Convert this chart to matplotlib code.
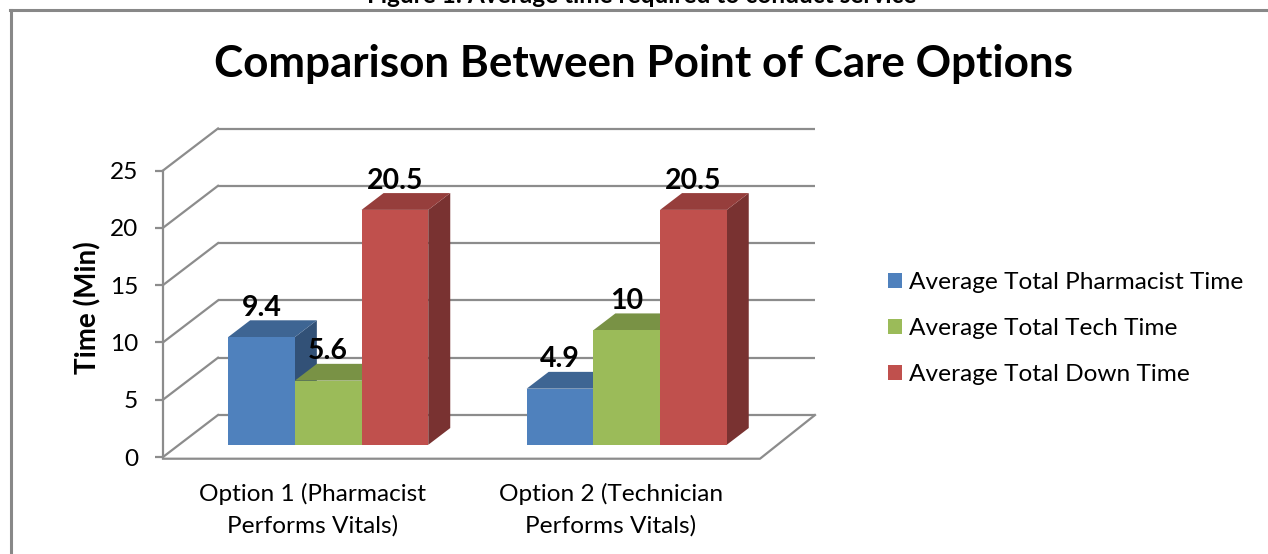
import matplotlib
matplotlib.use("Agg")
import matplotlib.pyplot as plt
from matplotlib.patches import Polygon, Rectangle
from matplotlib.lines import Line2D
import numpy as np

# ---------------- data ----------------
categories = ["Option 1 (Pharmacist\nPerforms Vitals)", "Option 2 (Technician\nPerforms Vitals)"]
series_names = ["Average Total Pharmacist Time", "Average Total Tech Time", "Average Total Down Time"]
pharmacist_time = [9.4, 4.9]
tech_time = [5.6, 10]
down_time = [20.5, 20.5]
y_ticks = [0, 5, 10, 15, 20, 25]
title_text = "Comparison Between Point of Care Options"
caption_text = "Figure 1: Average time required to conduct service"
y_label = "Time (Min)"

series_values = [pharmacist_time, tech_time, down_time]
front_colors = ["#4F81BD", "#9BBB59", "#C0504D"]

plt.rcParams["font.family"] = ["Lato", "DejaVu Sans"]

W, H = 1268, 554
fig = plt.figure(figsize=(W / 100, H / 100), dpi=100)

# ---------------- pseudo-3D geometry (pixel layout) ----------------
x0_px, xunit_px = 163.0, 298.5      # front-plane x origin & pixels per category unit
y0_px, yunit_px = 457.0, 11.46      # front-plane y origin & pixels per minute
DX = 55.0 / xunit_px                # depth offset (full depth) in x units
DY = 42.0 / yunit_px                # depth offset (full depth) in value units
xlim = (-0.03, 2.25)
ylim = (-0.6, 29.6)
left_px = x0_px + xlim[0] * xunit_px
right_px = x0_px + xlim[1] * xunit_px
bottom_px = y0_px - ylim[0] * yunit_px
top_px = y0_px - ylim[1] * yunit_px
ax = fig.add_axes([left_px / W, 1 - bottom_px / H,
                   (right_px - left_px) / W, (bottom_px - top_px) / H])
ax.set_xlim(xlim)
ax.set_ylim(ylim)
ax.patch.set_visible(False)

grid_c = "#8C8C8C"
grid_lw = 1.6
n_cat = len(categories)
base_fs = 17.6

# back wall gridlines and left wall diagonals
for v in y_ticks:
    ax.plot([DX, n_cat + DX], [v + DY, v + DY], color=grid_c, lw=grid_lw, zorder=1,
            solid_capstyle="butt")
    ax.plot([0, DX], [v, v + DY], color=grid_c, lw=grid_lw, zorder=1)
# floor outline
ax.plot([0, n_cat, n_cat + DX], [-0.15, -0.15, DY], color=grid_c, lw=grid_lw, zorder=1)

# front value axis
for s in ["top", "right", "bottom"]:
    ax.spines[s].set_visible(False)
ax.spines["left"].set_position(("data", 0))
ax.spines["left"].set_bounds(0, y_ticks[-1])
ax.spines["left"].set_color(grid_c)
ax.spines["left"].set_linewidth(grid_lw)
ax.set_yticks(y_ticks)
ax.set_yticklabels([str(t) for t in y_ticks])
ax.tick_params(axis="y", length=6, width=grid_lw, color=grid_c, labelsize=base_fs,
               pad=12, labelcolor="black")

cat_centers = np.arange(n_cat) + 0.5
ax.set_xticks(cat_centers)
ax.set_xticklabels(categories, fontsize=base_fs, linespacing=1.58)
ax.tick_params(axis="x", length=0, pad=13.5)

fig.text(88 / W, 1 - 308 / H, y_label, rotation=90, ha="center", va="center",
         fontsize=20, fontweight="bold")

# ---------------- bars ----------------
bar_w = 66.7 / xunit_px
d_front, d_back = 0.29, 0.69
base = d_front * DY
ddx = (d_back - d_front) * DX
ddy = (d_back - d_front) * DY


def shade(hexc, f):
    r, g, b = matplotlib.colors.to_rgb(hexc)
    return (r * f, g * f, b * f)


for i, (vals, col, name) in enumerate(zip(series_values, front_colors, series_names)):
    xs = cat_centers + (i - 1) * bar_w + d_front * DX
    bars = ax.bar(xs, vals, width=bar_w, bottom=base, color=col, label=name,
                  linewidth=0)
    for c, (rect, v) in enumerate(zip(bars, vals)):
        z = 3 + c + i * 0.1
        rect.set_zorder(z + 0.03)
        xl = rect.get_x()
        xr = xl + rect.get_width()
        top_y = base + v
        side = Polygon([(xr, base), (xr, top_y), (xr + ddx, top_y + ddy), (xr + ddx, base + ddy)],
                       closed=True, facecolor=shade(col, 0.63), edgecolor="none", zorder=z + 0.01)
        top = Polygon([(xl, top_y), (xr, top_y), (xr + ddx, top_y + ddy), (xl + ddx, top_y + ddy)],
                      closed=True, facecolor=shade(col, 0.78), edgecolor="none", zorder=z + 0.02)
        ax.add_patch(side)
        ax.add_patch(top)
        ax.text(xl + bar_w / 2, top_y + 1.85, f"{v:g}", ha="center", va="baseline",
                fontsize=20.5, fontweight="bold", zorder=10)

# ---------------- legend ----------------
handles = [Rectangle((0, 0), 1, 1, facecolor=c, edgecolor="none") for c in front_colors]
leg_fs = base_fs
fs_px = leg_fs * 100 / 72
fig.legend(handles, series_names, loc="center left",
           bbox_to_anchor=(888 / W, 1 - 328.5 / H), bbox_transform=fig.transFigure,
           frameon=False, fontsize=leg_fs, borderpad=0, borderaxespad=0,
           handlelength=14 / fs_px, handleheight=14 / fs_px, handletextpad=7 / fs_px,
           labelspacing=1.03)

# ---------------- titles and frame ----------------
fig.text(643 / W, 1 - 77 / H, title_text, ha="center", va="baseline",
         fontsize=31.7, fontweight="bold")
fig.text(642 / W, 1 - 3 / H, caption_text, ha="center", va="baseline",
         fontsize=17.6, fontweight="bold")

frame_c = "#888888"
fig.add_artist(Line2D([10 / W, 1], [1 - 9.5 / H, 1 - 9.5 / H], transform=fig.transFigure,
                      color=frame_c, lw=2.2))
fig.add_artist(Line2D([11 / W, 11 / W], [0, 1 - 9.5 / H], transform=fig.transFigure,
                      color=frame_c, lw=2.2))

fig.savefig("out.png", dpi=100, facecolor="white")
